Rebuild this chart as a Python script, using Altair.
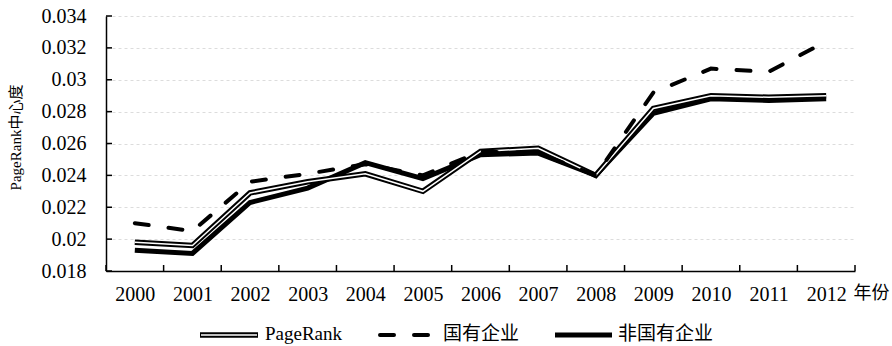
import altair as alt
import pandas as pd

years = list(range(2000, 2013))
pagerank = [0.0198, 0.0196, 0.0229, 0.0236, 0.0241, 0.0230, 0.0255, 0.0257, 0.0240, 0.0282, 0.0290, 0.0289, 0.0290]
soe = [0.0210, 0.0205, 0.0236, 0.0241, 0.0247, 0.0240, 0.0255, 0.0254, 0.0240, 0.0292, 0.0307, 0.0305, 0.0324]
nonsoe = [0.0193, 0.0191, 0.0223, 0.0232, 0.0248, 0.0238, 0.0253, 0.0254, 0.0240, 0.0279, 0.0288, 0.0287, 0.0288]
series = ["PageRank", "国有企业", "非国有企业"]
yticks = [0.018, 0.02, 0.022, 0.024, 0.026, 0.028, 0.03, 0.032, 0.034]

df = pd.DataFrame({
    "year": years * 3,
    "value": pagerank + soe + nonsoe,
    "series": [s for s in series for _ in years],
})
bounds = pd.DataFrame({"b": [y - 0.5 for y in years] + [years[-1] + 0.5]})
ytk = pd.DataFrame({"t": yticks})

LAT = "Liberation Serif"
CJK = "Noto Sans CJK SC"

x_scale = alt.Scale(domain=[years[0] - 0.5, years[-1] + 0.5], nice=False, zero=False)
y_scale = alt.Scale(domain=[yticks[0], yticks[-1]], nice=False, zero=False)

x_axis = alt.Axis(values=years, format="d", ticks=False, grid=False,
                  labelFont=LAT, labelFontSize=20, labelColor="black",
                  labelPadding=13, labelFlush=False,
                  title="年份", titleX=747, titleY=13, titleAlign="left",
                  titleBaseline="top", titleFont=CJK, titleFontSize=18)
y_axis = alt.Axis(values=yticks, format="~g", ticks=False, grid=True,
                  gridColor="#dcdcdc", gridDash=[3, 3], gridWidth=1,
                  labelFont=LAT, labelFontSize=20, labelColor="black",
                  labelPadding=20, labelFlush=False,
                  title="PageRank中心度", titleFont=LAT + ", " + CJK,
                  titleFontSize=15,
                  titleX=-91, titleY=121, titleAngle=270, titleAlign="center",
                  titleBaseline="middle")

base = alt.Chart(df).encode(
    x=alt.X("year:Q", scale=x_scale, axis=x_axis),
    y=alt.Y("value:Q", scale=y_scale, axis=y_axis),
)

def sel(name):
    return base.transform_filter(alt.datum.series == name)

l_non = sel(series[2]).mark_line(color="black", strokeWidth=5)
l_pr_o = sel(series[0]).mark_line(color="black", strokeWidth=5.5)
l_pr_i = sel(series[0]).mark_line(color="white", strokeWidth=1.5)
l_soe = sel(series[1]).mark_line(color="black", strokeWidth=4, strokeDash=[14, 20], strokeCap="round")

xt = alt.Chart(bounds).mark_rule(color="black", strokeWidth=1.5).encode(
    x=alt.X("b:Q", scale=x_scale, axis=x_axis), y=alt.value(249), y2=alt.value(255))
yt = alt.Chart(ytk).mark_rule(color="black", strokeWidth=1.5).encode(
    y=alt.Y("t:Q", scale=y_scale, axis=y_axis), x=alt.value(0), x2=alt.value(6))

# manual legend
LY = 319
def leg_data(i):
    return alt.Chart(pd.DataFrame({"s": [series[i]]}))

g1o = leg_data(0).mark_rule(color="black", strokeWidth=5.5).encode(x=alt.value(94), x2=alt.value(152), y=alt.value(LY))
g1i = leg_data(0).mark_rule(color="white", strokeWidth=1.5).encode(x=alt.value(95), x2=alt.value(151), y=alt.value(LY))
g1t = leg_data(0).mark_text(align="left", baseline="middle", font=LAT, fontSize=19, color="black").encode(
    text="s:N", x=alt.value(159), y=alt.value(LY - 1))
g2 = leg_data(1).mark_rule(color="black", strokeWidth=4, strokeDash=[14, 20], strokeCap="round").encode(
    x=alt.value(274), x2=alt.value(325), y=alt.value(LY))
g2t = leg_data(1).mark_text(align="left", baseline="middle", font=CJK, fontSize=19, color="black").encode(
    text="s:N", x=alt.value(337), y=alt.value(LY - 1))
g3 = leg_data(2).mark_rule(color="black", strokeWidth=5).encode(x=alt.value(449), x2=alt.value(506), y=alt.value(LY))
g3t = leg_data(2).mark_text(align="left", baseline="middle", font=CJK, fontSize=19, color="black").encode(
    text="s:N", x=alt.value(512), y=alt.value(LY - 1))

chart = alt.layer(l_non, l_pr_o, l_pr_i, l_soe, xt, yt, g1o, g1i, g1t, g2, g2t, g3, g3t).properties(
    width=749, height=255,
    autosize=alt.AutoSizeParams(type="none"),
    padding={"left": 106, "top": 16, "right": 37, "bottom": 75},
    background="white",
).configure(font=LAT).configure_view(stroke=None).configure_axis(
    labelFont=LAT, labelFontSize=20, labelColor="black",
    titleFontWeight="normal", titleColor="black",
    domainColor="black", domainWidth=1.5,
)

chart.save("out.html", embed_options={"renderer": "svg", "actions": False})
